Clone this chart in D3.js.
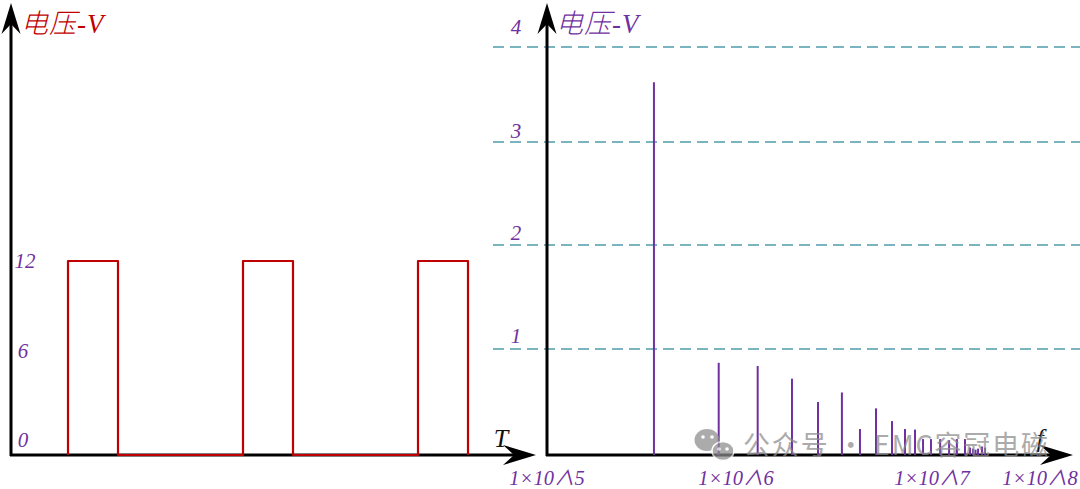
<!DOCTYPE html>
<html><head><meta charset="utf-8">
<script src="https://cdn.jsdelivr.net/npm/d3@7/dist/d3.min.js"></script>
<style>html,body{margin:0;padding:0;background:#fff}svg{display:block}</style>
</head><body><svg id="c" width="1080" height="489"></svg>
<script>
// data
const timeEdges=[1.14,2.14,4.64,5.64,8.14,9.14];
const timeTicks=[0,6,12];
const gridVals=[1,2,3,4];
const specFreq=[3.68e5,8.1e5,1.29e6,1.93e6,2.62e6,3.47e6,4.29e6,5.18e6,6.25e6,7.28e6,8.19e6,9.0e6,9.88e6,1.19e7,1.44e7,1.7e7,2.02e7,2.25e7,2.4e7,2.53e7,2.67e7,2.9e7,3.1e7];
const specVolt=[3.63,0.87,0.84,0.72,0.5,0.59,0.245,0.44,0.32,0.245,0.24,0.15,0.15,0.15,0.14,0.15,0.15,0.07,0.06,0.05,0.06,0.08,0.07];
const freqTicks=[1e5,1e6,1e7,1e8];
const freqLabels=["1×10∧5","1×10∧6","1×10∧7","1×10∧8"];
const leftTitle="电压-V", rightTitle="电压-V";
const watermark="公众号 · EMC容冠电磁";

const RED="#c00000", PUR="#7030a0", TEAL="#4f9daa", BLK="#000";
const serif='"Liberation Serif","Noto Sans CJK SC",serif';
const svg=d3.select("#c");

// scales
const xT=d3.scaleLinear().domain([0,10]).range([11,511]);
const yV=d3.scaleLinear().domain([0,12]).range([455,261]);
const xF=d3.scaleLog().domain(freqTicks).range([547,736,932,1040]);
const yS=d3.scaleLinear().domain([0,1,2,3,4]).range([455,349,245,142,47]);

function label(x,y,t,col,size,anchor){
  return svg.append("text").attr("x",x).attr("y",y).text(t)
   .attr("fill",col).attr("font-size",size).attr("font-style","italic")
   .attr("font-family",serif).attr("text-anchor",anchor||"middle");
}
function arrowUp(x,y){svg.append("path").attr("fill",BLK)
  .attr("d",`M${x},${y} L${x+9.5},${y+31} L${x},${y+21} L${x-9.5},${y+31}Z`);}
function arrowRight(x,y){svg.append("path").attr("fill",BLK)
  .attr("d",`M${x},${y} L${x-33},${y+10} L${x-22},${y} L${x-33},${y-10}Z`);}

// grid
svg.append("g").selectAll("line").data(gridVals).join("line")
  .attr("x1",493).attr("x2",1080).attr("y1",d=>yS(d)).attr("y2",d=>yS(d))
  .attr("stroke",TEAL).attr("stroke-width",1.7).attr("stroke-dasharray","11 6");

// axes left
svg.append("line").attr("x1",xT(0)).attr("x2",xT(0)).attr("y1",456).attr("y2",20).attr("stroke",BLK).attr("stroke-width",3);
svg.append("line").attr("x1",xT(0)-1).attr("x2",515).attr("y1",455).attr("y2",455).attr("stroke",BLK).attr("stroke-width",3);
arrowUp(xT(0),3); arrowRight(536,455);

// pulse
const pts=[];
timeEdges.forEach((t,i)=>{ if(i%2==0){pts.push([t,0],[t,12]);} else {pts.push([t,12],[t,0]);} });
const lineT=d3.line().x(d=>xT(d[0])).y(d=>yV(d[1]));
svg.append("path").attr("d",lineT(pts)).attr("fill","none").attr("stroke",RED).attr("stroke-width",2.2).attr("stroke-linejoin","round");

// axes right
svg.append("line").attr("x1",xF(1e5)).attr("x2",xF(1e5)).attr("y1",456).attr("y2",20).attr("stroke",BLK).attr("stroke-width",3);
svg.append("line").attr("x1",xF(1e5)-1).attr("x2",1055).attr("y1",455).attr("y2",455).attr("stroke",BLK).attr("stroke-width",3);
arrowUp(xF(1e5),3); arrowRight(1073,455);

// spectrum
svg.append("g").selectAll("line").data(specFreq).join("line")
  .attr("x1",d=>xF(d)).attr("x2",d=>xF(d))
  .attr("y1",455).attr("y2",(d,i)=>yS(specVolt[i]))
  .attr("stroke",PUR).attr("stroke-width",2);

// labels
label(21,33,leftTitle,RED,27,"start").attr("font-weight",300).attr("letter-spacing",1);
label(556,33,rightTitle,PUR,27,"start").attr("font-weight",300).attr("letter-spacing",1);
const tickDy={0:-8,6:0,12:7};
timeTicks.forEach(t=>label(t==12?25:23,yV(t)+tickDy[t],t,PUR,21));
const gridDy={1:-6,2:-5,3:-4,4:-13};
gridVals.forEach(v=>label(516,yS(v)+gridDy[v],v,PUR,21));
label(501,447,"T","#111",26);
label(1040,447,"f","#111",26);
freqTicks.forEach((f,i)=>label(xF(f),485,freqLabels[i],PUR,20.5));

// watermark
const wm=svg.append("g").attr("fill","#8c8c8c").attr("opacity",0.72);
wm.append("ellipse").attr("cx",707).attr("cy",440).attr("rx",12.5).attr("ry",11);
wm.append("ellipse").attr("cx",723).attr("cy",451).attr("rx",11).attr("ry",9.5).attr("stroke","#fff").attr("stroke-width",1.5);
[[703,437],[712,437],[719,449],[727,449]].forEach(p=>wm.append("circle").attr("cx",p[0]).attr("cy",p[1]).attr("r",1.8).attr("fill","#fff"));
wm.append("text").attr("x",743).attr("y",455).attr("font-size",27).attr("font-family",'"Noto Sans CJK SC",sans-serif').attr("textLength",305).text(watermark);
</script></body></html>
